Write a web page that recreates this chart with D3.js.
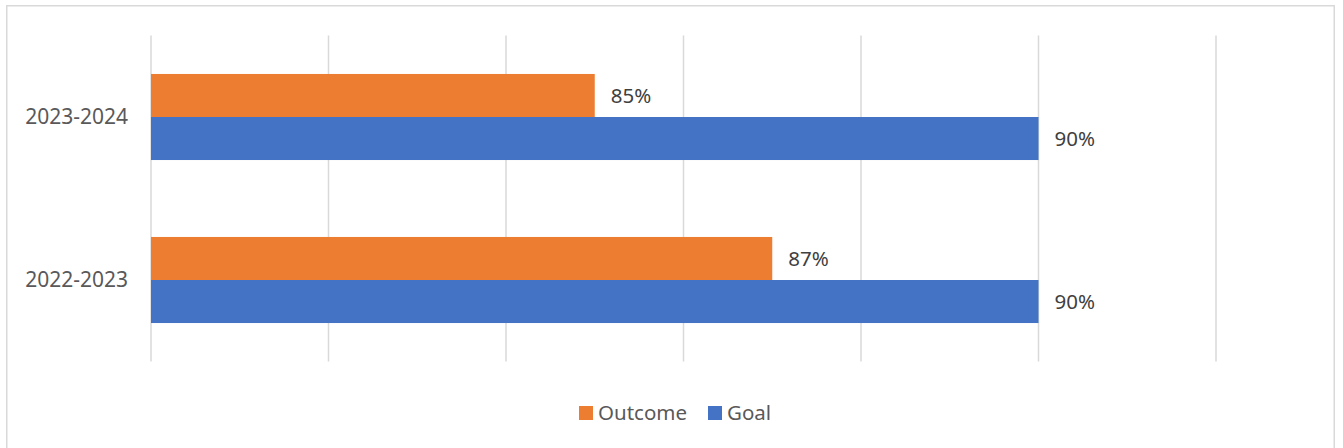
<!DOCTYPE html>
<html>
<head>
<meta charset="utf-8">
<script src="https://cdn.jsdelivr.net/npm/d3@7"></script>
<style>
  html, body { margin: 0; padding: 0; background: #fff; }
  svg { display: block; font-family: "Noto Sans", "Open Sans", sans-serif; }
</style>
</head>
<body>
<svg id="chart" width="1343" height="448"></svg>
<script>
// School years shown top to bottom
const categories = ["2023-2024", "2022-2023"];
// Percent values per series
const outcomeValues = [85, 87];
const goalValues = [90, 90];
const seriesNames = ["Outcome", "Goal"];
const seriesColors = ["#ED7D31", "#4472C4"];
const xTicks = [80, 82, 84, 86, 88, 90, 92];

const svg = d3.select("#chart");

// outer frame
svg.append("rect")
  .attr("x", 6.75).attr("y", 5.75)
  .attr("width", 1327.5).attr("height", 460)
  .attr("fill", "#fff")
  .attr("stroke", "#d9d9d9").attr("stroke-width", 1.5);

const plot = { left: 151, right: 1216, top: 35.5, bottom: 361.5 };

const x = d3.scaleLinear().domain([80, 92]).range([plot.left, plot.right]);
const y = d3.scaleBand().domain(categories)
  .range([plot.top, plot.bottom])
  .paddingInner(0.472).paddingOuter(0.236);
const sub = d3.scaleBand().domain(seriesNames).range([0, y.bandwidth()]);

// vertical gridlines
svg.append("g")
  .selectAll("line")
  .data(xTicks)
  .join("line")
  .attr("x1", d => x(d)).attr("x2", d => x(d))
  .attr("y1", plot.top).attr("y2", plot.bottom)
  .attr("stroke", "#d9d9d9").attr("stroke-width", 1.5);

const rows = categories.map((c, i) => ({
  cat: c,
  values: [
    { name: "Outcome", v: outcomeValues[i], color: seriesColors[0] },
    { name: "Goal", v: goalValues[i], color: seriesColors[1] }
  ]
}));

const groups = svg.append("g").selectAll("g")
  .data(rows)
  .join("g")
  .attr("transform", d => `translate(0,${y(d.cat)})`);

groups.selectAll("rect")
  .data(d => d.values)
  .join("rect")
  .attr("x", x(80))
  .attr("y", d => sub(d.name))
  .attr("width", d => x(d.v) - x(80))
  .attr("height", sub.bandwidth())
  .attr("fill", d => d.color);

groups.selectAll("text.val")
  .data(d => d.values)
  .join("text")
  .attr("class", "val")
  .attr("x", d => x(d.v) + 16)
  .attr("y", d => sub(d.name) + sub.bandwidth() / 2 + 2)
  .attr("dominant-baseline", "middle")
  .attr("font-size", 20.5)
  .attr("fill", "#404040")
  .text(d => d.v + "%");

// category labels
svg.append("g").selectAll("text")
  .data(categories)
  .join("text")
  .attr("x", 128)
  .attr("y", d => y(d) + y.bandwidth() / 2 + 1)
  .attr("text-anchor", "end")
  .attr("dominant-baseline", "middle")
  .attr("font-size", 21)
  .attr("fill", "#595959")
  .text(d => d);

// legend
const legend = svg.append("g");
const legendX = [579, 708];
seriesNames.forEach((n, i) => {
  legend.append("rect")
    .attr("x", legendX[i]).attr("y", 406)
    .attr("width", 14).attr("height", 14)
    .attr("fill", seriesColors[i]);
  legend.append("text")
    .attr("x", legendX[i] + 19).attr("y", 414)
    .attr("dominant-baseline", "middle")
    .attr("font-size", 20.5)
    .attr("fill", "#595959")
    .text(n);
});
</script>
</body>
</html>
